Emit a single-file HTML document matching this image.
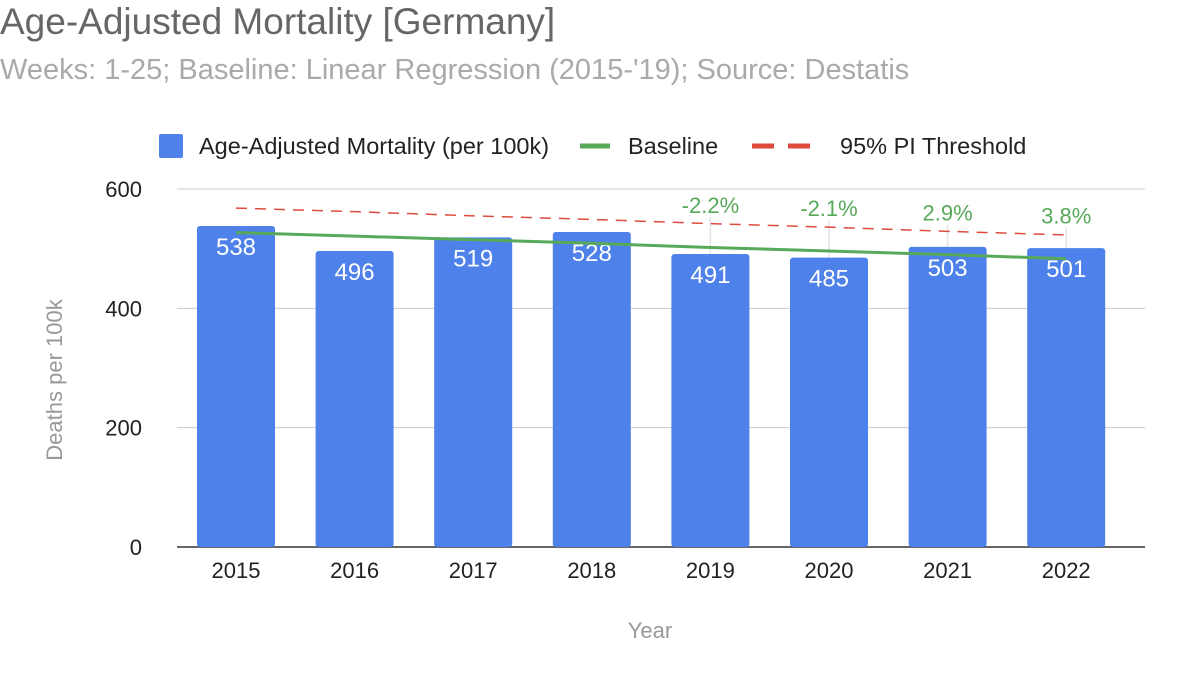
<!DOCTYPE html>
<html><head><meta charset="utf-8"><style>
body{margin:0;background:#fff;font-family:"Liberation Sans",Arial,sans-serif;}
svg text{font-family:"Liberation Sans",Arial,sans-serif;}
</style></head><body>
<svg id="c" width="1200" height="670">
<text x="0" y="34" font-size="37" fill="#666">Age-Adjusted Mortality [Germany]</text>
<text x="0" y="79" font-size="29" fill="#aaa">Weeks: 1-25; Baseline: Linear Regression (2015-'19); Source: Destatis</text>
<g>
<rect x="159" y="134" width="24" height="24" rx="2" fill="#4e81ea"/>
<text x="199" y="154" font-size="23.5" fill="#222">Age-Adjusted Mortality (per 100k)</text>
<line x1="580" y1="146" x2="610" y2="146" stroke="#57a95a" stroke-width="5"/>
<text x="628" y="154" font-size="23.5" fill="#222">Baseline</text>
<line x1="752" y1="146" x2="822" y2="146" stroke="#dd4b3e" stroke-width="5" stroke-dasharray="22,14"/>
<text x="840" y="154" font-size="23.5" fill="#222">95% PI Threshold</text>
</g>
<text transform="translate(62,380) rotate(-90)" text-anchor="middle" font-size="22" fill="#999">Deaths per 100k</text>
<text x="650" y="638" text-anchor="middle" font-size="22" fill="#999">Year</text>
<g id="plot"></g>
</svg>
<script>
const years=["2015","2016","2017","2018","2019","2020","2021","2022"];
const mortality=[538,496,519,528,491,485,503,501];
const baseline=[527,521,515,509,502,496,490,483];
const threshold=[568,562,555,549,542,536,529,523];
const excessLabels=[null,null,null,null,"-2.2%","-2.1%","2.9%","3.8%"];
const excessLabelPos=[null,null,null,null,573,568,561,556];
const yTicks=[0,200,400,600];
const NS="http://www.w3.org/2000/svg";
const g=document.getElementById('plot');
const y=v=>547-v*358/600;
const x=i=>236+i*118.6;
function mk(t,a,txt){const e=document.createElementNS(NS,t);for(const k in a)e.setAttribute(k,a[k]);if(txt!=null)e.textContent=txt;g.appendChild(e);return e;}
yTicks.forEach(t=>{
 const l=mk('line',{x1:177,x2:1145,y1:y(t),y2:y(t),stroke:t===0?'#333':'#ccc','stroke-width':t===0?1.5:1});
 
 
 const tx=mk('text',{x:142,y:y(t)+8,'text-anchor':'end','font-size':22,fill:'#222'},t);
 
 
});
years.forEach((yr,i)=>{
 if(excessLabels[i]){
  const gl=mk('line',{x1:x(i),x2:x(i),y1:y(excessLabelPos[i])+12,y2:y(mortality[i]),stroke:'#e4e4e4','stroke-width':1.5});
  
  
 }
 const b=mk('rect',{x:x(i)-39,y:y(mortality[i]),width:78,height:y(0)-y(mortality[i]),rx:3,fill:'#4e81ea'});
 
 
 const v=mk('text',{x:x(i),y:y(mortality[i])+29,'text-anchor':'middle','font-size':24,fill:'#fff'},mortality[i]);
 
 
 const xl=mk('text',{x:x(i),y:578,'text-anchor':'middle','font-size':22,fill:'#222'},yr);
 
 
});
const th=mk('polyline',{points:threshold.map((v,i)=>x(i)+','+y(v)).join(' '),fill:'none',stroke:'#dd4b3e','stroke-width':1.5,'stroke-dasharray':'11,8'});


const bl=mk('polyline',{points:baseline.map((v,i)=>x(i)+','+y(v)).join(' '),fill:'none',stroke:'#57a95a','stroke-width':3});


years.forEach((yr,i)=>{
 if(!excessLabels[i])return;
 const t=mk('text',{x:x(i),y:y(excessLabelPos[i])+8,'text-anchor':'middle','font-size':22,fill:'#57a95a'},excessLabels[i]);
 
 
});
</script>
</body></html>
